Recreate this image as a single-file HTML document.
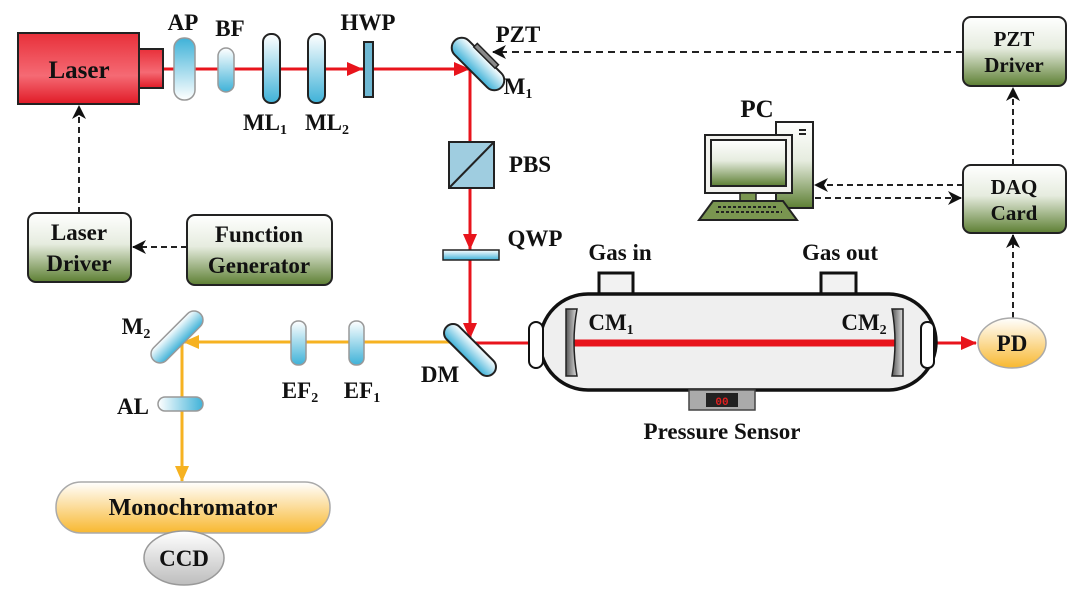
<!DOCTYPE html>
<html><head><meta charset="utf-8"><style>
html,body{margin:0;padding:0;background:#fff;}
svg{display:block;}
text{font-family:"Liberation Serif",serif;font-weight:bold;fill:#111;}
</style></head><body>
<svg width="1080" height="596" viewBox="0 0 1080 596" xmlns="http://www.w3.org/2000/svg">
<defs>
<linearGradient id="red" x1="0" y1="0" x2="0" y2="1"><stop offset="0" stop-color="#e8303a"/><stop offset="0.6" stop-color="#f56a74"/><stop offset="1" stop-color="#e01a26"/></linearGradient>
<linearGradient id="green" x1="0" y1="0" x2="0" y2="1"><stop offset="0" stop-color="#ffffff"/><stop offset="0.45" stop-color="#e6ecdf"/><stop offset="1" stop-color="#5d7f33"/></linearGradient>
<linearGradient id="blue" x1="0" y1="0" x2="0" y2="1"><stop offset="0" stop-color="#3fb2d8"/><stop offset="1" stop-color="#ffffff"/></linearGradient>
<linearGradient id="blue2" x1="0" y1="0" x2="0" y2="1"><stop offset="0" stop-color="#ffffff"/><stop offset="1" stop-color="#3fb2d8"/></linearGradient>
<linearGradient id="blueh" x1="0" y1="0" x2="1" y2="0"><stop offset="0" stop-color="#ffffff"/><stop offset="1" stop-color="#3fb2d8"/></linearGradient>
<linearGradient id="orange" x1="0" y1="0" x2="0" y2="1"><stop offset="0" stop-color="#ffffff"/><stop offset="1" stop-color="#f8b830"/></linearGradient>
<linearGradient id="grey" x1="0" y1="0" x2="0" y2="1"><stop offset="0" stop-color="#ffffff"/><stop offset="1" stop-color="#bdbdbd"/></linearGradient>
<linearGradient id="cm" x1="0" y1="0" x2="1" y2="0"><stop offset="0" stop-color="#555"/><stop offset="1" stop-color="#ddd"/></linearGradient>
<marker id="ar" markerWidth="16" markerHeight="16" refX="15" refY="8" orient="auto" markerUnits="userSpaceOnUse"><path d="M0,1 L16,8 L0,15 Z" fill="#e8141c"/></marker>
<marker id="ay" markerWidth="16" markerHeight="16" refX="15" refY="8" orient="auto" markerUnits="userSpaceOnUse"><path d="M0,1 L16,8 L0,15 Z" fill="#f6b221"/></marker>
<marker id="ak" markerWidth="14" markerHeight="14" refX="13" refY="7" orient="auto" markerUnits="userSpaceOnUse"><path d="M0,0 L14,7 L0,14 L4,7 Z" fill="#111"/></marker>
</defs>

<!-- red beams -->
<line x1="164" y1="69" x2="468" y2="69" stroke="#e8141c" stroke-width="3"/>
<line x1="300" y1="69" x2="362" y2="69" stroke="#e8141c" stroke-width="3" marker-end="url(#ar)"/>
<line x1="400" y1="69" x2="469" y2="69" stroke="#e8141c" stroke-width="3" marker-end="url(#ar)"/>
<line x1="470" y1="69" x2="470" y2="350" stroke="#e8141c" stroke-width="3"/>
<line x1="470" y1="200" x2="470" y2="249" stroke="#e8141c" stroke-width="3" marker-end="url(#ar)"/>
<line x1="470" y1="270" x2="470" y2="338" stroke="#e8141c" stroke-width="3" marker-end="url(#ar)"/>
<line x1="470" y1="343" x2="565" y2="343" stroke="#e8141c" stroke-width="3" marker-end="url(#ar)"/>
<line x1="900" y1="343" x2="976" y2="343" stroke="#e8141c" stroke-width="3" marker-end="url(#ar)"/>
<!-- yellow beams -->
<line x1="463" y1="342" x2="184" y2="342" stroke="#f6b221" stroke-width="3" marker-end="url(#ay)"/>
<line x1="182" y1="342" x2="182" y2="481" stroke="#f6b221" stroke-width="3" marker-end="url(#ay)"/>

<!-- Laser -->
<rect x="18" y="33" width="121" height="71" fill="url(#red)" stroke="#222" stroke-width="2"/>
<text x="79" y="78" font-size="25" text-anchor="middle">Laser</text>
<rect x="139" y="49" width="24" height="39" fill="url(#red)" stroke="#222" stroke-width="2"/>

<!-- lenses -->
<rect x="174" y="38" width="21" height="62" rx="10" fill="url(#blue)" stroke="#999" stroke-width="1.5"/>
<rect x="218" y="48" width="16" height="44" rx="8" fill="url(#blue2)" stroke="#999" stroke-width="1.5"/>
<rect x="263" y="34" width="17" height="69" rx="8" fill="url(#blue2)" stroke="#222" stroke-width="2"/>
<rect x="308" y="34" width="17" height="69" rx="8" fill="url(#blue2)" stroke="#222" stroke-width="2"/>
<rect x="364" y="42" width="9" height="55" fill="#6fb8d3" stroke="#222" stroke-width="2"/>
<text x="183" y="30" font-size="23" text-anchor="middle">AP</text>
<text x="230" y="36" font-size="23" text-anchor="middle">BF</text>
<text x="368" y="30" font-size="23" text-anchor="middle">HWP</text>
<text x="265" y="130" font-size="23" text-anchor="middle">ML<tspan font-size="14" dy="4">1</tspan></text>
<text x="327" y="130" font-size="23" text-anchor="middle">ML<tspan font-size="14" dy="4">2</tspan></text>

<!-- M1 -->
<g transform="translate(478,64) rotate(45)">
<rect x="-33" y="-10" width="66" height="20" rx="10" fill="url(#blue2)" stroke="#222" stroke-width="2"/>
<rect x="-15" y="-14" width="30" height="5" fill="#888" stroke="#222" stroke-width="1.5"/>
</g>
<text x="518" y="42" font-size="23" text-anchor="middle">PZT</text>
<text x="518" y="94" font-size="23" text-anchor="middle">M<tspan font-size="14" dy="4">1</tspan></text>

<!-- PBS -->
<rect x="449" y="142" width="45" height="46" fill="#9fcde0" stroke="#222" stroke-width="2"/>
<line x1="449" y1="188" x2="494" y2="142" stroke="#222" stroke-width="2"/>
<text x="530" y="172" font-size="23" text-anchor="middle">PBS</text>
<!-- QWP -->
<rect x="443" y="250" width="56" height="10" fill="url(#blue2)" stroke="#222" stroke-width="1.5"/>
<text x="535" y="246" font-size="23" text-anchor="middle">QWP</text>

<!-- DM -->
<g transform="translate(470,350) rotate(45)">
<rect x="-33" y="-9" width="66" height="18" rx="9" fill="url(#blue2)" stroke="#222" stroke-width="2"/>
</g>
<text x="440" y="382" font-size="23" text-anchor="middle">DM</text>

<!-- EF -->
<rect x="291" y="321" width="15" height="44" rx="7" fill="url(#blue2)" stroke="#999" stroke-width="1.5"/>
<rect x="349" y="321" width="15" height="44" rx="7" fill="url(#blue2)" stroke="#999" stroke-width="1.5"/>
<text x="300" y="398" font-size="23" text-anchor="middle">EF<tspan font-size="14" dy="4">2</tspan></text>
<text x="362" y="398" font-size="23" text-anchor="middle">EF<tspan font-size="14" dy="4">1</tspan></text>

<!-- M2 -->
<g transform="translate(177,337) rotate(-45)">
<rect x="-33" y="-9" width="66" height="18" rx="9" fill="url(#blue2)" stroke="#999" stroke-width="1.5"/>
</g>
<text x="136" y="334" font-size="23" text-anchor="middle">M<tspan font-size="14" dy="4">2</tspan></text>
<!-- AL -->
<rect x="158" y="397" width="45" height="14" rx="7" fill="url(#blueh)" stroke="#999" stroke-width="1.5"/>
<text x="133" y="414" font-size="23" text-anchor="middle">AL</text>

<!-- Monochromator / CCD -->
<rect x="56" y="482" width="274" height="51" rx="25" fill="url(#orange)" stroke="#aaa" stroke-width="1.5"/>
<text x="193" y="515" font-size="24" text-anchor="middle">Monochromator</text>
<ellipse cx="184" cy="558" rx="40" ry="27" fill="url(#grey)" stroke="#999" stroke-width="1.5"/>
<text x="184" y="566" font-size="23" text-anchor="middle">CCD</text>

<!-- Laser driver / function gen -->
<rect x="28" y="213" width="103" height="69" rx="8" fill="url(#green)" stroke="#222" stroke-width="2"/>
<text x="79" y="240" font-size="23" text-anchor="middle">Laser</text>
<text x="79" y="271" font-size="23" text-anchor="middle">Driver</text>
<rect x="187" y="215" width="145" height="70" rx="8" fill="url(#green)" stroke="#222" stroke-width="2"/>
<text x="259" y="242" font-size="23" text-anchor="middle">Function</text>
<text x="259" y="273" font-size="23" text-anchor="middle">Generator</text>
<line x1="187" y1="247" x2="133" y2="247" stroke="#222" stroke-width="2" stroke-dasharray="6,4" marker-end="url(#ak)"/>
<line x1="79" y1="213" x2="79" y2="106" stroke="#222" stroke-width="2" stroke-dasharray="6,4" marker-end="url(#ak)"/>

<!-- PZT driver / DAQ -->
<rect x="963" y="17" width="103" height="69" rx="8" fill="url(#green)" stroke="#222" stroke-width="2"/>
<text x="1014" y="46" font-size="21" text-anchor="middle">PZT</text>
<text x="1014" y="72" font-size="21" text-anchor="middle">Driver</text>
<rect x="963" y="165" width="103" height="68" rx="8" fill="url(#green)" stroke="#222" stroke-width="2"/>
<text x="1014" y="194" font-size="21" text-anchor="middle">DAQ</text>
<text x="1014" y="220" font-size="21" text-anchor="middle">Card</text>
<line x1="963" y1="52" x2="493" y2="52" stroke="#222" stroke-width="2" stroke-dasharray="7,5" marker-end="url(#ak)"/>
<line x1="1013" y1="165" x2="1013" y2="88" stroke="#222" stroke-width="2" stroke-dasharray="6,4" marker-end="url(#ak)"/>
<line x1="1013" y1="318" x2="1013" y2="235" stroke="#222" stroke-width="2" stroke-dasharray="6,4" marker-end="url(#ak)"/>
<line x1="963" y1="185" x2="815" y2="185" stroke="#222" stroke-width="2" stroke-dasharray="6,4" marker-end="url(#ak)"/>
<line x1="815" y1="198" x2="961" y2="198" stroke="#222" stroke-width="2" stroke-dasharray="6,4" marker-end="url(#ak)"/>

<!-- PC -->
<text x="757" y="117" font-size="25" text-anchor="middle">PC</text>
<rect x="776" y="122" width="37" height="86" fill="url(#green)" stroke="#222" stroke-width="2"/>
<rect x="799" y="129" width="7" height="2" fill="#222"/><rect x="799" y="133" width="7" height="2" fill="#222"/>
<rect x="705" y="135" width="87" height="58" fill="#f2f2ee" stroke="#222" stroke-width="2"/>
<rect x="711" y="140" width="75" height="46" fill="url(#green)" stroke="#222" stroke-width="2"/>
<rect x="740" y="193" width="16" height="8" fill="#7a9650" stroke="#222" stroke-width="1.5"/>
<path d="M713,201 L783,201 L797,220 L699,220 Z" fill="#7a9650" stroke="#222" stroke-width="2"/>
<line x1="718" y1="207" x2="778" y2="207" stroke="#222" stroke-width="2" stroke-dasharray="3,2"/>
<line x1="716" y1="212" x2="782" y2="212" stroke="#222" stroke-width="2" stroke-dasharray="3,2"/>

<!-- Gas cell -->
<rect x="599" y="273" width="34" height="21" fill="#f2f2f2" stroke="#111" stroke-width="3"/>
<rect x="821" y="273" width="35" height="21" fill="#f2f2f2" stroke="#111" stroke-width="3"/>
<text x="620" y="260" font-size="23" text-anchor="middle">Gas in</text>
<text x="840" y="260" font-size="23" text-anchor="middle">Gas out</text>
<rect x="540" y="294" width="396" height="96" rx="48" fill="#efefef" stroke="#111" stroke-width="3.5"/>
<rect x="529" y="322" width="14" height="46" rx="7" fill="#fff" stroke="#111" stroke-width="2"/>
<rect x="921" y="322" width="13" height="46" rx="6" fill="#fff" stroke="#111" stroke-width="2"/>
<line x1="573" y1="343" x2="897" y2="343" stroke="#e8141c" stroke-width="7"/>
<path d="M566,309 L577,309 Q571,342 577,376 L566,376 Z" fill="url(#cm)" stroke="#222" stroke-width="1.5"/>
<path d="M903,309 L892,309 Q898,342 892,376 L903,376 Z" fill="url(#cm)" stroke="#222" stroke-width="1.5"/>
<text x="611" y="330" font-size="23" text-anchor="middle">CM<tspan font-size="14" dy="4">1</tspan></text>
<text x="864" y="330" font-size="23" text-anchor="middle">CM<tspan font-size="14" dy="4">2</tspan></text>
<rect x="689" y="390" width="66" height="20" fill="#aaa" stroke="#444" stroke-width="1.5"/>
<rect x="706" y="393" width="32" height="14" fill="#222"/>
<text x="722" y="405" font-size="11" text-anchor="middle" style="fill:#e02020;font-family:'Liberation Mono',monospace">00</text>
<text x="722" y="439" font-size="23" text-anchor="middle">Pressure Sensor</text>

<!-- PD -->
<ellipse cx="1012" cy="343" rx="34" ry="25" fill="url(#orange)" stroke="#aaa" stroke-width="1.5"/>
<text x="1012" y="351" font-size="23" text-anchor="middle">PD</text>
</svg>
</body></html>
